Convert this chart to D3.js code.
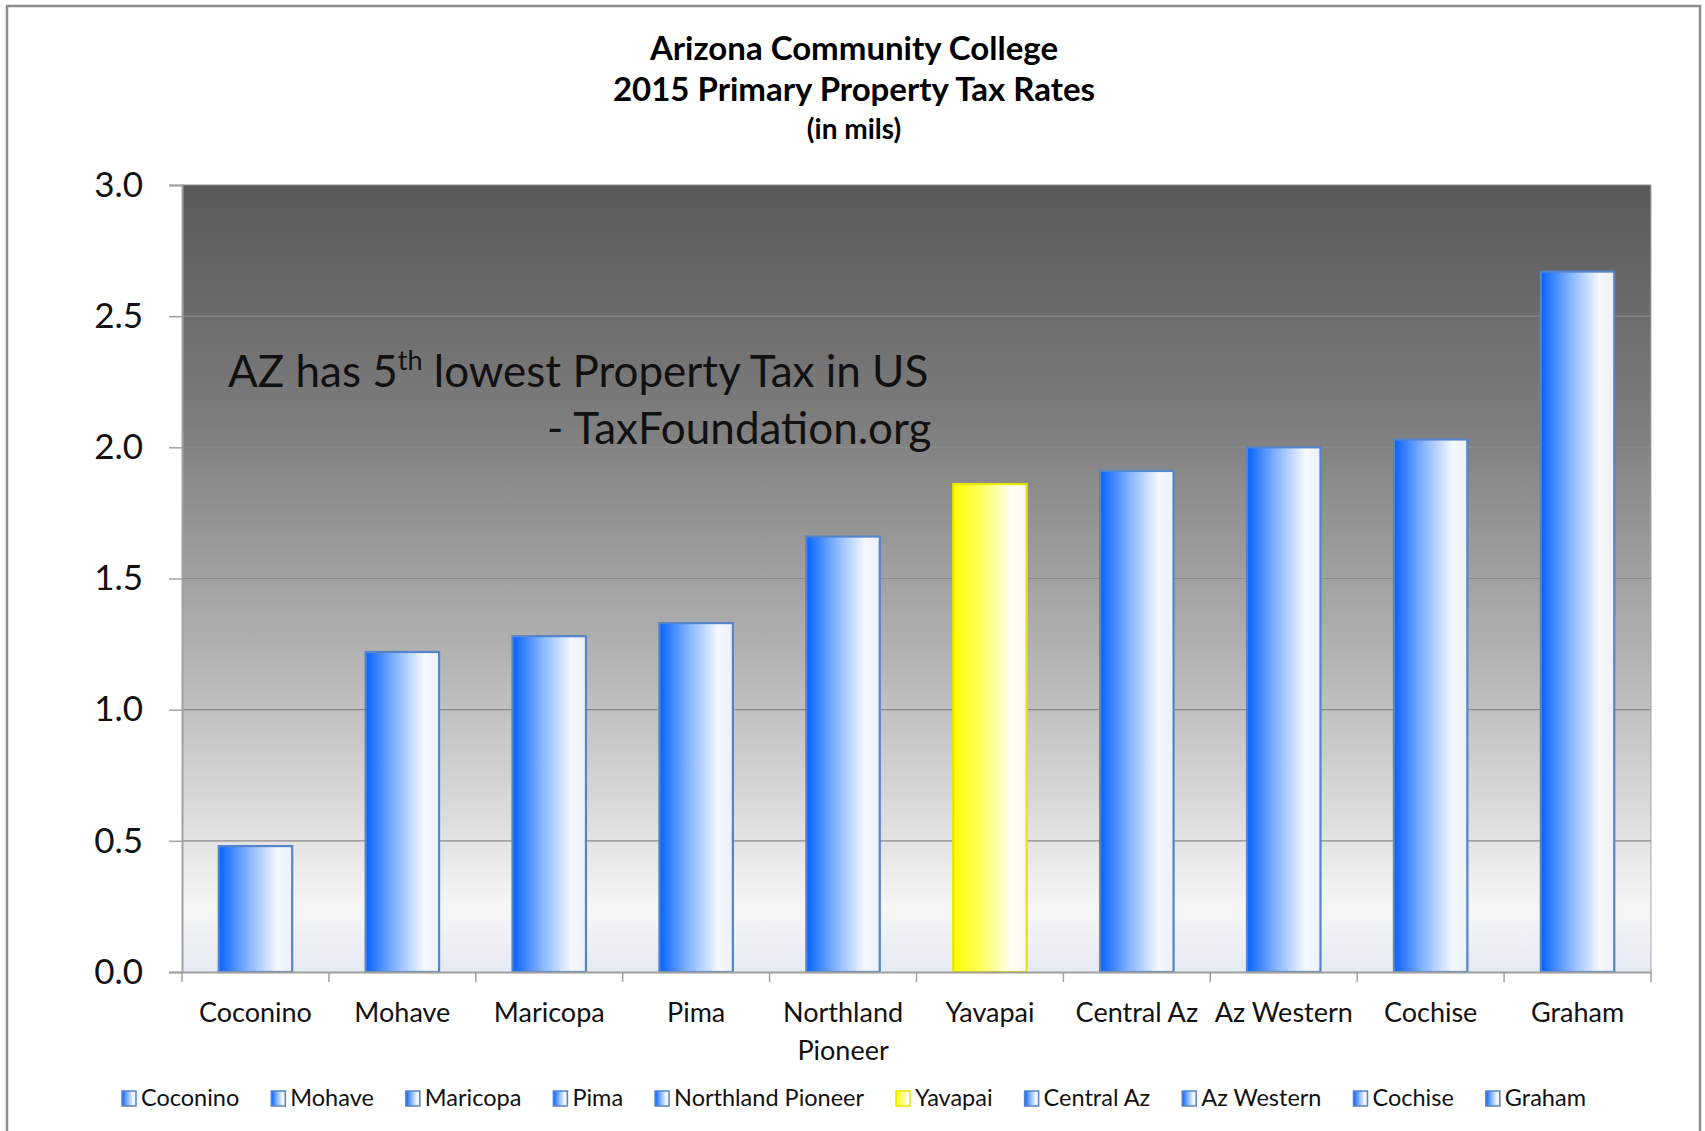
<!DOCTYPE html>
<html>
<head>
<meta charset="utf-8">
<script src="https://cdn.jsdelivr.net/npm/d3@7"></script>
<style>
  body { margin: 0; background: #fff; }
  svg { display: block; font-family: Lato, "Open Sans", sans-serif; }
</style>
</head>
<body>
<div id="chart"></div>
<script>
// data
var categories = ["Coconino", "Mohave", "Maricopa", "Pima", "Northland Pioneer",
                  "Yavapai", "Central Az", "Az Western", "Cochise", "Graham"];
var rates = [0.48, 1.22, 1.28, 1.33, 1.66, 1.86, 1.91, 2.00, 2.03, 2.67];
var highlight = ["Yavapai"];
var yTicks = [0, 0.5, 1.0, 1.5, 2.0, 2.5, 3.0];
var titleLines = ["Arizona Community College", "2015 Primary Property Tax Rates", "(in mils)"];

var W = 1705, H = 1131;
var margin = {top: 185, right: 54, bottom: 159, left: 182},
    width = W - margin.left - margin.right,
    height = H - margin.top - margin.bottom;

var svg = d3.select("#chart").append("svg")
    .attr("width", W)
    .attr("height", H);

var defs = svg.append("defs");

// plot background: dark grey on top fading to near white
var bg = defs.append("linearGradient").attr("id", "bgGrad")
    .attr("x1", 0).attr("y1", 0).attr("x2", 0).attr("y2", 1);
[[0, "#595959"], [0.3, "#7d7d7d"], [0.6, "#b3b3b3"], [0.8, "#dcdcdc"],
 [0.92, "#f6f6f6"], [1, "#e5e9f3"]].forEach(function(s) {
    bg.append("stop").attr("offset", s[0]).attr("stop-color", s[1]);
});

function barGradient(id, c0, c1, c2, c3) {
    var g = defs.append("linearGradient").attr("id", id)
        .attr("x1", 0).attr("y1", 0).attr("x2", 1).attr("y2", 0);
    g.append("stop").attr("offset", 0).attr("stop-color", c0);
    g.append("stop").attr("offset", 0.4).attr("stop-color", c1);
    g.append("stop").attr("offset", 0.8).attr("stop-color", c2);
    g.append("stop").attr("offset", 1).attr("stop-color", c3);
}
barGradient("blueGrad", "#0762ff", "#85b4ff", "#f6f9ff", "#eaf0fa");
barGradient("yellowGrad", "#ffff00", "#ffff66", "#fffff6", "#f6f6ee");

function fillOf(d) { return highlight.indexOf(d) >= 0 ? "url(#yellowGrad)" : "url(#blueGrad)"; }
function strokeOf(d) { return highlight.indexOf(d) >= 0 ? "#e6e600" : "#5584c8"; }

// outer frame
svg.append("rect")
    .attr("x", 7).attr("y", 6)
    .attr("width", 1693).attr("height", H + 20)
    .attr("fill", "none")
    .attr("stroke", "#8c8c8c")
    .attr("stroke-width", 2.5);

// title
var title = svg.append("g").attr("text-anchor", "middle");
title.selectAll("text").data(titleLines).enter().append("text")
    .attr("x", 854)
    .attr("y", function(d, i) { return [60, 101, 139][i]; })
    .attr("font-weight", "bold")
    .attr("font-size", function(d, i) { return i < 2 ? 33 : 28; })
    .attr("fill", "#000")
    .text(function(d) { return d; });

var x = d3.scaleBand()
    .domain(categories)
    .range([0, width])
    .paddingInner(0.5)
    .paddingOuter(0.25);

var y = d3.scaleLinear()
    .domain([0, 3])
    .range([height, 0]);

var g = svg.append("g")
    .attr("transform", "translate(" + margin.left + "," + margin.top + ")");

g.append("rect")
    .attr("width", width).attr("height", height)
    .attr("fill", "url(#bgGrad)");

// gridlines
g.selectAll(".grid").data(yTicks.slice(1)).enter().append("line")
    .attr("class", "grid")
    .attr("x1", 0).attr("x2", width)
    .attr("y1", function(d) { return y(d); })
    .attr("y2", function(d) { return y(d); })
    .attr("stroke", "#8a8a8a")
    .attr("stroke-width", 1.2);

// right edge of plot
g.append("line")
    .attr("x1", width).attr("x2", width)
    .attr("y1", 0).attr("y2", height)
    .attr("stroke", "#a6a6a6");

// annotation
var note = g.append("g").attr("fill", "#111");
var n1 = note.append("text")
    .attr("x", 46).attr("y", 202)
    .attr("font-size", 44);
n1.append("tspan").text("AZ has 5");
n1.append("tspan").attr("font-size", 27).attr("dy", -17).text("th");
n1.append("tspan").attr("dy", 17).text(" lowest Property Tax in US");
note.append("text")
    .attr("x", 365).attr("y", 259)
    .attr("font-size", 44)
    .text("- TaxFoundation.org");

// bars
g.selectAll(".bar").data(categories).enter().append("rect")
    .attr("class", "bar")
    .attr("x", function(d) { return x(d); })
    .attr("y", function(d, i) { return y(rates[i]); })
    .attr("width", x.bandwidth())
    .attr("height", function(d, i) { return height - y(rates[i]); })
    .attr("fill", fillOf)
    .attr("stroke", strokeOf)
    .attr("stroke-width", 2.2);

// y axis
var yAxis = g.append("g")
    .call(d3.axisLeft(y).tickValues(yTicks).tickSize(13).tickPadding(26)
        .tickFormat(d3.format(".1f")));
yAxis.select(".domain").attr("stroke", "#a0a0a0").attr("stroke-width", 2);
yAxis.selectAll(".tick line").attr("stroke", "#a0a0a0").attr("stroke-width", 1.5);
yAxis.selectAll(".tick text").attr("font-size", 35).attr("fill", "#111")
    .attr("font-family", "Lato, sans-serif");

// x axis: labels under bars, ticks on category boundaries
var xAxis = g.append("g")
    .attr("transform", "translate(0," + height + ")")
    .call(d3.axisBottom(x).tickSize(0).tickPadding(0).tickFormat(""));
xAxis.select(".domain").attr("stroke", "#a0a0a0").attr("stroke-width", 2);

var step = x.step();
xAxis.selectAll(".bound").data(d3.range(categories.length + 1)).enter().append("line")
    .attr("class", "bound")
    .attr("x1", function(i) { return i * step; })
    .attr("x2", function(i) { return i * step; })
    .attr("y1", 0).attr("y2", 10)
    .attr("stroke", "#a0a0a0").attr("stroke-width", 1.5);

xAxis.selectAll(".tick").each(function(d) {
    var t = d3.select(this).append("text")
        .attr("fill", "#111")
        .attr("font-size", 27)
        .attr("font-family", "Lato, sans-serif")
        .attr("text-anchor", "middle")
        .attr("y", 50)
        .text(d);
    // wrap labels wider than one category slot
    if (t.node().getComputedTextLength() > step - 4) {
        var words = d.split(" ");
        t.text(null);
        words.forEach(function(w, i) {
            t.append("tspan").attr("x", 0).attr("dy", i ? 38 : 0).text(w);
        });
    }
});

// legend
var legend = svg.append("g").attr("transform", "translate(0,1098)");
var lx = 0;
var items = legend.selectAll(".item").data(categories).enter().append("g")
    .attr("class", "item");
items.append("rect")
    .attr("x", 0).attr("y", -7)
    .attr("width", 14).attr("height", 15)
    .attr("fill", fillOf)
    .attr("stroke", strokeOf)
    .attr("stroke-width", 1.5);
items.append("text")
    .attr("x", 19).attr("y", 8)
    .attr("font-size", 23.5)
    .attr("fill", "#111")
    .text(function(d) { return d; });
items.each(function() {
    var w = d3.select(this).select("text").node().getComputedTextLength();
    d3.select(this).attr("transform", "translate(" + lx + ",0)");
    lx += 19 + w + 32;
});
var legendWidth = lx - 32;
legend.attr("transform", "translate(" + (854 - legendWidth / 2) + ",1098)");
</script>
</body>
</html>
